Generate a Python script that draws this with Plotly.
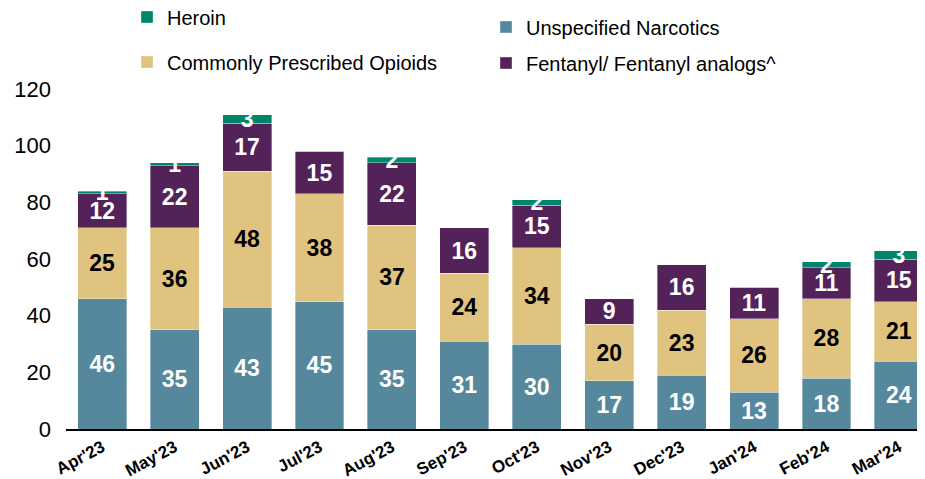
import plotly.graph_objects as go

months = ["Apr'23", "May'23", "Jun'23", "Jul'23", "Aug'23", "Sep'23",
          "Oct'23", "Nov'23", "Dec'23", "Jan'24", "Feb'24", "Mar'24"]
unspecified = [46, 35, 43, 45, 35, 31, 30, 17, 19, 13, 18, 24]
prescribed = [25, 36, 48, 38, 37, 24, 34, 20, 23, 26, 28, 21]
fentanyl = [12, 22, 17, 15, 22, 16, 15, 9, 16, 11, 11, 15]
heroin = [1, 1, 3, 0, 2, 0, 2, 0, 0, 0, 2, 3]
y_ticks = [0, 20, 40, 60, 80, 100, 120]

FONT = "Liberation Sans, Arial, sans-serif"

series = [
    ("Unspecified Narcotics", unspecified, "#55879D", "white", "legend3"),
    ("Commonly Prescribed Opioids", prescribed, "#DFC37E", "black", "legend2"),
    ("Fentanyl/ Fentanyl analogs^", fentanyl, "#522259", "white", "legend4"),
    ("Heroin", heroin, "#00856B", "white", "legend"),
]

fig = go.Figure()
for name, vals, color, tcol, leg in series:
    fig.add_trace(go.Bar(
        x=months, y=vals, name=name,
        marker=dict(color=color, line=dict(color="rgba(255,255,255,0.6)", width=0.6)),
        text=[str(v) if v else "" for v in vals],
        textposition="inside", insidetextanchor="middle", constraintext="none",
        textangle=0,
        textfont=dict(family=FONT, size=23, color=tcol, weight="bold"),
        legend=leg, hoverinfo="skip",
    ))

# page body has an 8px margin, so the figure is drawn 8px in from the window corner
FW, FH = 917, 471
L = 58
T = 81
B = 50


def cy(fy):
    return 1 - fy / FH


def cx(fx):
    return fx / FW


legfont = dict(family=FONT, size=20, color="black")
common = dict(font=legfont, bgcolor="rgba(0,0,0,0)", xanchor="left", yanchor="middle",
              xref="container", yref="container")

fig.update_layout(
    width=FW, height=FH,
    margin=dict(l=L, r=0, t=T, b=B, autoexpand=False),
    plot_bgcolor="white", paper_bgcolor="white",
    barmode="stack", bargap=0.324,
    font=dict(family=FONT, color="black"),
    showlegend=True,
    legend=dict(x=cx(119), y=cy(9), **common),
    legend2=dict(x=cx(119), y=cy(54), **common),
    legend3=dict(x=cx(478), y=cy(19), **common),
    legend4=dict(x=cx(478), y=cy(55), **common),
    xaxis=dict(
        range=[-0.5, 11.36], tickangle=-28,
        tickfont=dict(family=FONT, size=17, color="black", weight="bold"),
        showline=True, linecolor="black", linewidth=2, ticks="",
        showgrid=False, fixedrange=True, automargin=False,
    ),
    yaxis=dict(
        range=[0, 120], tickvals=y_ticks,
        tickfont=dict(family=FONT, size=22, color="black"),
        showgrid=False, zeroline=False, showline=False, ticks="",
        ticklabelstandoff=14, automargin=False,
    ),
)

fig.write_html("out.html")
